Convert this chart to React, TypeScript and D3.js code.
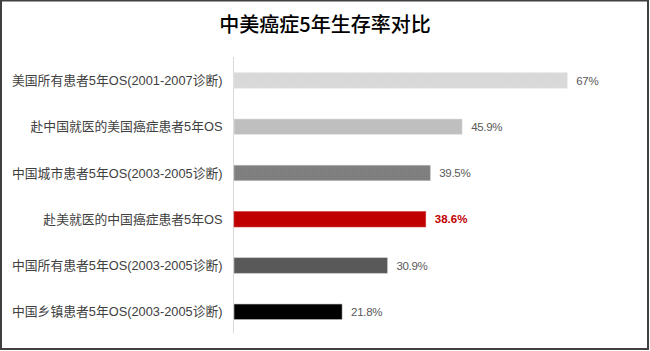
import React from "react";
import * as d3 from "d3";

const categories = [
  "美国所有患者5年OS(2001-2007诊断)",
  "赴中国就医的美国癌症患者5年OS",
  "中国城市患者5年OS(2003-2005诊断)",
  "赴美就医的中国癌症患者5年OS",
  "中国所有患者5年OS(2003-2005诊断)",
  "中国乡镇患者5年OS(2003-2005诊断)",
];
const values = [67, 45.9, 39.5, 38.6, 30.9, 21.8];
const valueLabels = ["67%", "45.9%", "39.5%", "38.6%", "30.9%", "21.8%"];
const colors = ["#d9d9d9", "#bfbfbf", "#7f7f7f", "#c00000", "#595959", "#000000"];
const title = "中美癌症5年生存率对比";

const W = 650;
const H = 351;
const FONT = "'Noto Sans CJK SC', 'Noto Sans', sans-serif";
const LFONT = "'Liberation Sans', 'Noto Sans CJK SC', sans-serif";

export default function App() {
  const x = d3.scaleLinear().domain([0, 80]).range([233.5, 632]);
  const y = d3
    .scaleBand<string>()
    .domain(categories)
    .range([57.3, 334.9])
    .paddingInner(0.665)
    .paddingOuter(0.3325);
  return (
    <div style={{ position: "fixed", left: 0, top: 0 }}>
      <svg width={W} height={H} style={{ display: "block" }}>
        <defs>
          <pattern id="hatch1" width="3" height="3" patternUnits="userSpaceOnUse" patternTransform="rotate(45)">
            <rect width="3" height="3" fill="#dadada" />
            <line x1="0" y1="0" x2="0" y2="3" stroke="#d2d2d2" strokeWidth="1" />
          </pattern>
          <pattern id="dots3" width="2" height="2" patternUnits="userSpaceOnUse">
            <rect width="2" height="2" fill="#818181" />
            <rect width="1" height="1" fill="#7a7a7a" />
          </pattern>
        </defs>
        <rect x={0} y={0} width={W} height={H} fill="#ffffff" />
        <rect x={1} y={0.5} width={647} height={348.5} fill="none" stroke="#404040" strokeWidth={2} />
        <text x={325} y={32} textAnchor="middle" fontFamily={FONT} fontSize={20} fontWeight={500} fill="#000000">
          {title}
        </text>
        <line x1={x(0)} x2={x(0)} y1={57} y2={333.5} stroke="#d9d9d9" strokeWidth={1} />
        {categories.map((c, i) => {
          const by = y(c)!;
          const bh = y.bandwidth();
          const fill = i === 0 ? "url(#hatch1)" : i === 2 ? "url(#dots3)" : colors[i];
          const red = i === 3;
          return (
            <g key={c}>
              <rect
                x={x(0) + 0.5}
                y={by}
                width={x(values[i]) - x(0) - 0.5}
                height={bh}
                fill={fill}
                stroke={i === 0 || i === 1 ? "#e8e8e8" : i === 3 ? "#d04040" : "#bfbfbf"}
                strokeWidth={0.6}
              />
              <text
                x={222.5}
                y={by + bh / 2}
                dy="0.36em"
                textAnchor="end"
                fontFamily={LFONT}
                fontSize={12.8}
                fill="#404040"
              >
                {c}
              </text>
              <text
                x={x(values[i]) + 9}
                y={by + bh / 2}
                dy="0.36em"
                fontFamily={LFONT}
                fontSize={11.5}
                fontWeight={red ? 700 : 400}
                fill={red ? "#c00000" : "#595959"}
                letterSpacing={red ? 0 : -0.3}
              >
                {valueLabels[i]}
              </text>
            </g>
          );
        })}
      </svg>
    </div>
  );
}
